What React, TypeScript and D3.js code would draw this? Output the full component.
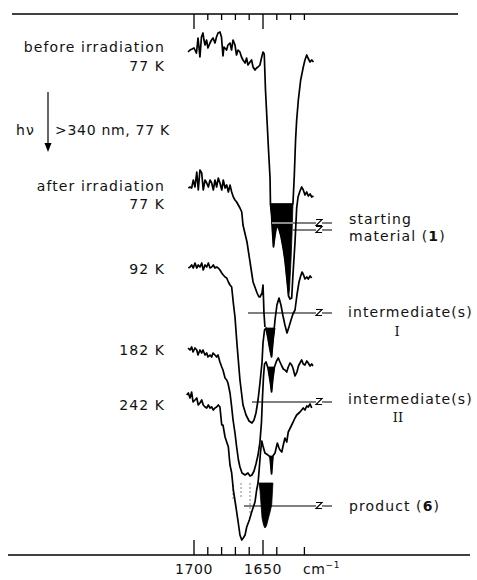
import React from 'react';
import * as d3 from 'd3';

type P = [number, number] | null;

// x: wavenumber (cm^-1), y: offset transmittance (a.u., 0 = lower frame)
const trace1: P[] = [
  [1704.3,503],[1702.9,505],[1701.4,506],[1700.0,507],[1699.3,505],[1698.2,502],[1697.1,517],[1696.4,508],
  [1695.7,498],[1694.6,518],[1693.5,522],[1692.8,515],[1692.0,510],[1690.9,515],[1689.9,507],[1688.4,512],
  [1687.3,515],[1686.2,517],[1684.8,512],[1683.7,518],[1682.6,522],[1681.2,523],[1680.1,518],[1679.0,499],
  [1678.3,508],[1676.4,505],[1675.4,510],[1673.9,512],[1672.8,505],[1671.7,515],[1670.3,510],[1669.2,500],
  [1668.1,505],[1666.7,503],[1665.6,498],[1664.5,495],[1663.0,492],[1661.9,497],[1660.9,490],[1659.4,493],
  [1658.3,495],[1657.2,488],[1655.8,485],[1654.7,487],[1653.6,488],[1652.2,490],[1651.1,497],[1650.0,503],
  [1649.1,501],[1648.2,465],[1647.1,435],[1646.0,405],[1644.9,377],[1644.6,351],[1628.3,351],[1627.3,380],
  [1626.4,415],[1625.6,435],[1624.4,455],[1622.7,475],[1620.8,488],[1619.6,495],[1618.3,500],[1617.4,497],
  [1615.9,493],[1614.7,495],[1613.4,493],
];

const trace2: P[] = [
  [1704.1,367],[1702.9,368],[1701.7,367],[1700.5,375],[1699.3,368],[1698.0,383],[1696.9,365],[1695.7,385],
  [1694.4,382],[1693.3,365],[1692.0,375],[1690.8,372],[1689.6,368],[1688.4,375],[1687.2,372],[1686.0,365],
  [1684.8,375],[1683.6,368],[1682.4,377],[1681.2,372],[1679.9,365],[1678.8,375],[1677.5,367],[1676.3,370],
  [1675.1,363],[1673.9,370],[1672.7,363],[1671.5,358],[1670.3,355],[1669.1,353],[1667.9,350],[1666.7,347],
  [1665.4,343],[1664.5,330],[1661.6,313],[1659.4,293],[1657.2,273],[1654.3,262],[1652.9,258],[1652.2,258],
  [1650.7,262],[1650.0,270],[1649.6,255],[1649.3,242],[1648.6,228],
  null,
  [1644.6,351],[1643.8,340],[1643.1,323],[1642.4,308],[1641.3,320],[1640.1,330],[1638.4,326],[1637.0,319],
  [1635.5,308],[1634.1,295],[1632.6,275],[1631.5,259],[1630.4,256],[1629.2,257],[1628.3,280],[1626.8,313],
  [1625.6,347],[1624.6,358],[1623.2,364],[1622.0,368],[1620.8,365],[1619.6,360],[1618.3,363],[1617.2,359],
  [1615.9,361],[1614.7,358],[1613.4,359],
];

const trace3: P[] = [
  [1704.1,287],[1702.9,288],[1701.7,290],[1700.5,287],[1699.3,292],[1698.0,287],[1696.9,290],[1695.7,288],
  [1694.4,292],[1693.3,285],[1692.0,290],[1690.8,288],[1689.6,292],[1688.4,287],[1687.2,288],[1686.0,290],
  [1684.8,287],[1683.6,288],[1682.4,287],[1681.2,285],[1679.9,282],[1678.8,280],[1677.5,278],[1676.3,277],
  [1675.1,273],[1673.9,270],[1672.7,268],[1671.5,252],[1670.3,238],[1668.8,210],[1666.7,175],[1664.5,150],
  [1662.3,140],[1660.1,134],[1658.0,132],[1656.5,135],[1655.1,142],[1653.6,155],[1652.2,172],[1650.7,193],
  [1650.0,212],[1648.9,225],[1647.8,227],[1646.4,217],[1644.9,205],[1643.8,198],[1642.8,213],[1641.3,235],
  [1639.9,250],[1638.4,257],[1637.0,250],[1635.5,239],[1634.1,230],[1632.6,222],[1631.2,228],[1629.7,235],
  [1628.3,241],[1626.8,245],[1625.4,260],[1623.9,273],[1622.7,279],[1621.7,283],[1620.6,280],[1619.6,276],
  [1618.3,278],[1617.2,276],[1615.9,279],[1614.7,277],
];

const trace4: P[] = [
  [1704.3,207],[1702.9,205],[1701.7,208],[1700.7,203],[1699.3,207],[1698.0,205],[1697.1,200],[1695.7,205],
  [1694.4,202],[1693.5,205],[1692.0,200],[1690.8,202],[1689.9,198],[1688.4,200],[1687.2,198],[1686.2,202],
  [1684.8,200],[1683.6,198],[1682.6,200],[1681.2,193],[1679.9,188],[1679.0,185],[1677.5,177],[1676.3,175],
  [1675.4,172],[1673.9,162],[1672.7,148],[1671.7,135],[1670.3,122],[1669.1,108],[1667.8,95],[1666.7,88],
  [1665.2,82],[1663.0,80],[1660.9,82],[1659.4,79],[1658.0,80],[1656.5,84],[1655.1,91],[1653.6,100],
  [1652.2,113],[1651.1,133],[1650.4,157],[1649.6,179],[1648.9,191],[1647.8,193],[1646.4,187],[1644.9,175],
  [1643.8,163],[1642.8,177],[1641.7,188],[1640.2,194],[1638.9,197],[1637.7,193],[1636.4,189],[1635.3,186],
  [1634.1,185],[1632.8,183],[1631.7,188],[1630.4,192],[1629.2,190],[1628.3,187],[1626.8,179],[1625.4,183],
  [1624.3,189],[1623.2,192],[1622.0,195],[1620.8,191],[1619.6,190],[1618.3,194],[1617.2,192],[1615.9,189],
  [1614.7,191],[1613.8,189],
];

const trace5: P[] = [
  [1705.3,160],[1704.1,162],[1702.9,157],[1701.7,163],[1700.7,153],[1699.3,155],[1698.0,157],[1696.9,150],
  [1695.7,152],[1694.4,155],[1693.3,150],[1692.0,148],[1690.8,147],[1689.6,150],[1688.4,147],[1687.2,148],
  [1686.0,145],[1684.8,147],[1683.6,148],[1682.4,150],[1681.2,148],[1679.9,130],[1679.0,130],[1677.5,118],
  [1676.3,113],[1675.1,108],[1674.4,97],[1673.9,90],[1672.7,82],[1671.5,65],[1669.6,48],[1667.9,32],
  [1666.7,20],[1665.4,15],[1664.3,17],[1663.0,20],[1661.8,28],[1659.9,35],[1658.2,43],[1655.8,53],
  [1654.6,65],[1653.6,72],[1652.9,83],[1651.8,103],[1650.9,114],[1650.0,109],[1648.6,102],[1646.4,100],
  [1644.9,98],[1643.8,81],[1642.8,99],[1641.3,102],[1639.6,112],[1638.4,107],[1637.7,105],[1636.4,103],
  [1635.3,110],[1634.1,117],[1632.8,113],[1631.7,123],[1629.2,130],[1626.8,137],[1625.6,140],[1623.2,143],
  [1622.0,145],[1620.8,147],[1619.6,145],[1618.3,149],[1617.2,148],[1615.9,151],[1614.7,147],
];

const traces = [trace1, trace2, trace3, trace4, trace5];

// blackened bands: [wavenumber, band floor] filled up to the level "top"
const fillTops = [351, 227, 188, 99, 72];
const fill2: [number, number][] = [
  [1644.6,351],[1643.8,340],[1643.1,323],[1642.4,308],[1641.3,320],[1640.1,330],[1638.4,326],[1637.0,319],
  [1635.5,308],[1634.1,295],[1632.6,275],[1631.5,259],[1630.8,265],[1629.7,295],[1629.0,320],[1628.3,351],
];
const fill3: [number, number][] = [[1647.8,227],[1646.4,217],[1644.9,205],[1643.8,198],[1642.8,213],[1641.3,227]];
const fill4: [number, number][] = [[1646.4,188],[1644.9,175],[1643.8,163],[1642.8,177],[1641.7,188]];
const fill5: [number, number][] = [[1645.7,99],[1644.9,98],[1643.8,81],[1642.8,99]];
const fillProduct: [number, number][] = [
  [1652.9,72],[1652.2,65],[1651.4,50],[1650.7,37],[1649.6,30],[1648.6,27],[1647.5,29],[1646.4,35],
  [1644.9,43],[1643.7,50],[1643.1,65],[1642.8,72],
];
const fills = [fill2, fill3, fill4, fill5, fillProduct];

// faint dotted marks inside the product envelope: [wavenumber, from, to]
const dottedMarks: [number, number, number][] = [[1671.7,70,55],[1665.9,72,58],[1659.4,72,40]];

// label pointers: start wavenumber, level
const pointerStart = [1643.5, 1628.3, 1660.9, 1658.0, 1663.8];
const pointerLevel = [332, 325, 242, 153, 49];
const pointerEnd = 1600;

const topTicks = [1700, 1690, 1680, 1670, 1660, 1650, 1640, 1630, 1620];
const bottomTicks = [1700, 1690, 1680, 1670, 1660, 1650, 1640, 1620];
const majorTicks = [1700, 1650];
const tickLabels = ['1700', '1650'];

const leftLabels = ['before irradiation', '77 K', 'after irradiation', '77 K', '92 K', '182 K', '242 K'];
const leftBaselines = [52, 71, 191, 209, 274, 355, 410];

const FONT = '"DejaVu Sans", sans-serif';
const LS = 1.1;

export default function App() {
  const x = d3.scaleLinear().domain([1700, 1650]).range([194, 263]);
  const y = d3.scaleLinear().domain([0, 541]).range([555, 14]);
  const line = d3.line<P>().defined(d => d != null).x(d => x(d![0])).y(d => y(d![1]));
  const yTop = y(541), yBot = y(0);

  const zPath = (x0: number, lv: number) => {
    const yy = y(lv);
    const xz = x(1611.6), xz2 = x(1607.2), xe = x(pointerEnd);
    return `M${x0},${yy}H${xz}M${xz},${yy - 3.5}H${xz2}L${xz},${yy + 2.5}H${xz2}M${xz2},${yy}H${xe}`;
  };

  return (
    <svg width={477} height={580} style={{ position: 'absolute', left: 0, top: 0, background: '#fff' }}
      fontFamily={FONT}>
      <rect width={477} height={580} fill="#fff" />
      {/* frame lines */}
      <line x1={12} x2={458} y1={yTop} y2={yTop} stroke="#000" strokeWidth={1.6} />
      <line x1={8} x2={470} y1={yBot} y2={yBot} stroke="#000" strokeWidth={1.6} />
      {topTicks.map(t => (
        <line key={'tt' + t} x1={x(t)} x2={x(t)} y1={yTop} y2={yTop + (majorTicks.includes(t) ? 15 : 6)}
          stroke="#000" strokeWidth={1.3} />
      ))}
      {bottomTicks.map(t => (
        <line key={'bt' + t} x1={x(t)} x2={x(t)} y1={yBot} y2={yBot - (majorTicks.includes(t) ? 15 : 8)}
          stroke="#000" strokeWidth={1.3} />
      ))}
      {majorTicks.map((t, i) => (
        <text key={'tl' + t} x={x(t)} y={574} textAnchor="middle" fontSize={14} fill="#111"
          letterSpacing={0.6}>{tickLabels[i]}</text>
      ))}
      <text x={303} y={574} fontSize={14} fill="#111" letterSpacing={0.6}>cm<tspan dy={-6} fontSize={9}>−1</tspan></text>

      {/* black band fills */}
      {fills.map((f, i) => {
        const a = d3.area<[number, number]>().x(d => x(d[0])).y0(y(fillTops[i])).y1(d => y(d[1]));
        return <path key={'f' + i} d={a(f) || ''} fill="#000" stroke="#000" strokeWidth={0.8} />;
      })}
      {dottedMarks.map((m, i) => (
        <line key={'dm' + i} x1={x(m[0])} x2={x(m[0])} y1={y(m[1])} y2={y(m[2])} stroke="#999"
          strokeWidth={1.2} strokeDasharray="2 2" />
      ))}

      {/* spectra */}
      {traces.map((t, i) => (
        <path key={'t' + i} d={line(t) || ''} fill="none" stroke="#000" strokeWidth={1.7}
          strokeLinejoin="round" />
      ))}

      {/* pointers */}
      {pointerStart.map((s, i) => (
        <path key={'p' + i} d={zPath(x(s), pointerLevel[i])} fill="none" stroke="#000" strokeWidth={1.1} />
      ))}
      <line x1={x(pointerStart[0])} x2={x(pointerStart[1])} y1={y(pointerLevel[0])} y2={y(pointerLevel[0])}
        stroke="#fff" strokeWidth={1.1} />

      {/* left labels */}
      {leftLabels.map((l, i) => (
        <text key={'ll' + i} x={165} y={leftBaselines[i]} textAnchor="end" fontSize={14} fill="#111"
          letterSpacing={LS}>{l}</text>
      ))}
      <text x={16} y={135} fontSize={14} fill="#111" letterSpacing={LS}>hν</text>
      <line x1={48} x2={48} y1={92} y2={144} stroke="#000" strokeWidth={1.2} />
      <path d="M44.5,143 L51.5,143 L48,152 Z" fill="#000" />
      <text x={55} y={135} fontSize={14} fill="#111" letterSpacing={0.7}>&gt;340 nm, 77 K</text>

      {/* right labels */}
      <text x={349} y={224} fontSize={14} fill="#111" letterSpacing={LS}>starting</text>
      <text x={349} y={241} fontSize={14} fill="#111" letterSpacing={LS}>material (<tspan fontWeight="bold">1</tspan>)</text>
      <text x={348} y={317} fontSize={14} fill="#111" letterSpacing={LS}>intermediate(s)</text>
      <text x={397} y={336} fontSize={13} fill="#111" textAnchor="middle" fontFamily='"DejaVu Serif", serif'>I</text>
      <text x={348} y={404} fontSize={14} fill="#111" letterSpacing={LS}>intermediate(s)</text>
      <text x={398} y={422} fontSize={13} fill="#111" textAnchor="middle" fontFamily='"DejaVu Serif", serif'>II</text>
      <text x={349} y={511} fontSize={14} fill="#111" letterSpacing={LS}>product (<tspan fontWeight="bold">6</tspan>)</text>
    </svg>
  );
}
